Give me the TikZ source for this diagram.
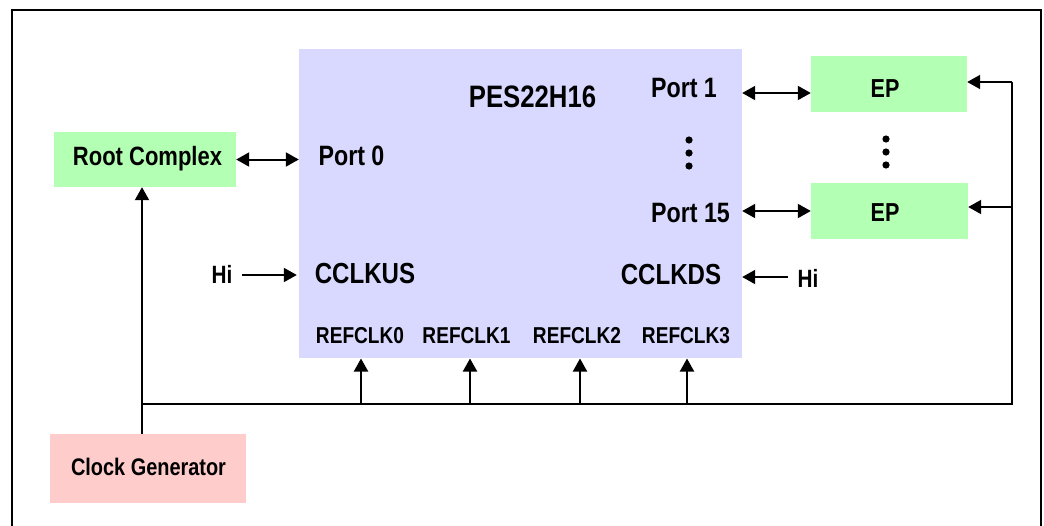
\documentclass[tikz,border=0pt]{standalone}
\usepackage{fontspec}
\setmainfont{Liberation Sans}[FakeStretch=0.83]
\usetikzlibrary{arrows.meta,calc}
\definecolor{pesfill}{HTML}{D9D9FF}
\definecolor{epfill}{HTML}{B3FFB3}
\definecolor{cgfill}{HTML}{FFCCCC}
\tikzset{
  blk/.style={inner sep=0pt, draw=none},
  lbl/.style={inner sep=0pt, anchor=base, font=\bfseries},
  conn/.style={line width=2pt, draw=black},
  tip/.style={-{Triangle[length=13pt,width=14pt]}},
  dtip/.style={{Triangle[length=13pt,width=14pt]}-{Triangle[length=13pt,width=14pt]}},
  dotc/.style={fill=black, draw=none}
}
\newcommand{\fs}[1]{\fontsize{#1}{#1}\selectfont}
\begin{document}
\begin{tikzpicture}[x=1pt,y=-1pt]
\useasboundingbox (0,0) rectangle (1044,525);
% frame
\draw[line width=2pt] (12,540) -- (12,10) -- (1041,10) -- (1041,540);
% blocks
\node[blk, fill=pesfill, minimum width=443pt, minimum height=309pt] (pes) at (520.5,203.5) {};
\node[blk, fill=epfill, minimum width=182pt, minimum height=55pt] (rc) at (145,159.5) {};
\node[blk, fill=epfill, minimum width=156pt, minimum height=56pt] (ep1) at (889,84) {};
\node[blk, fill=epfill, minimum width=157pt, minimum height=56pt] (ep2) at (889.5,211) {};
\node[blk, fill=cgfill, minimum width=196pt, minimum height=69pt] (cg) at (148,468.5) {};
% labels
\node[lbl, font=\bfseries\fs{31}] (title) at (532.5,107) {PES22H16};
\node[lbl, font=\bfseries\fs{28}] (p0) at (351.5,165) {Port 0};
\node[lbl, font=\bfseries\fs{26.5}] (rct) at (147.5,165) {Root Complex};
\node[lbl, font=\bfseries\fs{25}] (hil) at (222,283) {Hi};
\node[lbl, font=\bfseries\fs{29}] (us) at (365,283) {CCLKUS};
\node[lbl, font=\bfseries\fs{28}] (p1) at (684,97) {Port 1};
\node[lbl, font=\bfseries\fs{28}] (p15) at (690.5,222) {Port 15};
\node[lbl, font=\bfseries\fs{26}] (ep1t) at (885,97) {EP};
\node[lbl, font=\bfseries\fs{26}] (ep2t) at (885,221) {EP};
\node[lbl, font=\bfseries\fs{29}] (ds) at (671,284) {CCLKDS};
\node[lbl, font=\bfseries\fs{25}] (hir) at (808,287) {Hi};
\node[lbl, font=\bfseries\fs{23}] (r0) at (360,343) {REFCLK0};
\node[lbl, font=\bfseries\fs{23}] (r1) at (466.5,343) {REFCLK1};
\node[lbl, font=\bfseries\fs{23}] (r2) at (577,343) {REFCLK2};
\node[lbl, font=\bfseries\fs{23}] (r3) at (686,343) {REFCLK3};
\node[lbl, font=\bfseries\fs{24}] (cgt) at (148.5,475) {Clock Generator};
% dots
\foreach \yy in {140,153,166} \fill[dotc] (689,\yy) circle (3.6pt);
\foreach \yy in {139,152,165} \fill[dotc] (886,\yy) circle (3.6pt);
% helper coordinates
\coordinate (busL) at (142,404);
\coordinate (busR) at (1012,404);
\coordinate (y1) at (0,93);
\coordinate (y15) at (0,211);
\coordinate (ye1) at (0,82);
\coordinate (ye2) at (0,207);
\coordinate (yhl) at (0,275);
\coordinate (yhr) at (0,277);
% connectors
\draw[conn, dtip] (rc.east) -- (rc.east -| pes.west);
\draw[conn, dtip] (pes.east |- y1) -- (ep1.west |- y1);
\draw[conn, dtip] (pes.east |- y15) -- (ep2.west |- y15);
\draw[conn, tip] (242,275) -- ($(pes.west |- yhl)+(-2,0)$);
\draw[conn, tip] (788,277) -- (pes.east |- yhr);
\draw[conn, tip] (busL |- cg.north) -- (busL |- rc.south);
\draw[conn] (busL) -- (busR) -- (busR |- ye1);
\draw[conn, tip] (busR |- ye1) -- (ep1.east |- ye1);
\draw[conn, tip] (busR |- ye2) -- (ep2.east |- ye2);
\foreach \xx in {361,470,580,687}
  \draw[conn, tip] (\xx,404) -- (\xx,358.5);
\end{tikzpicture}
\end{document}
